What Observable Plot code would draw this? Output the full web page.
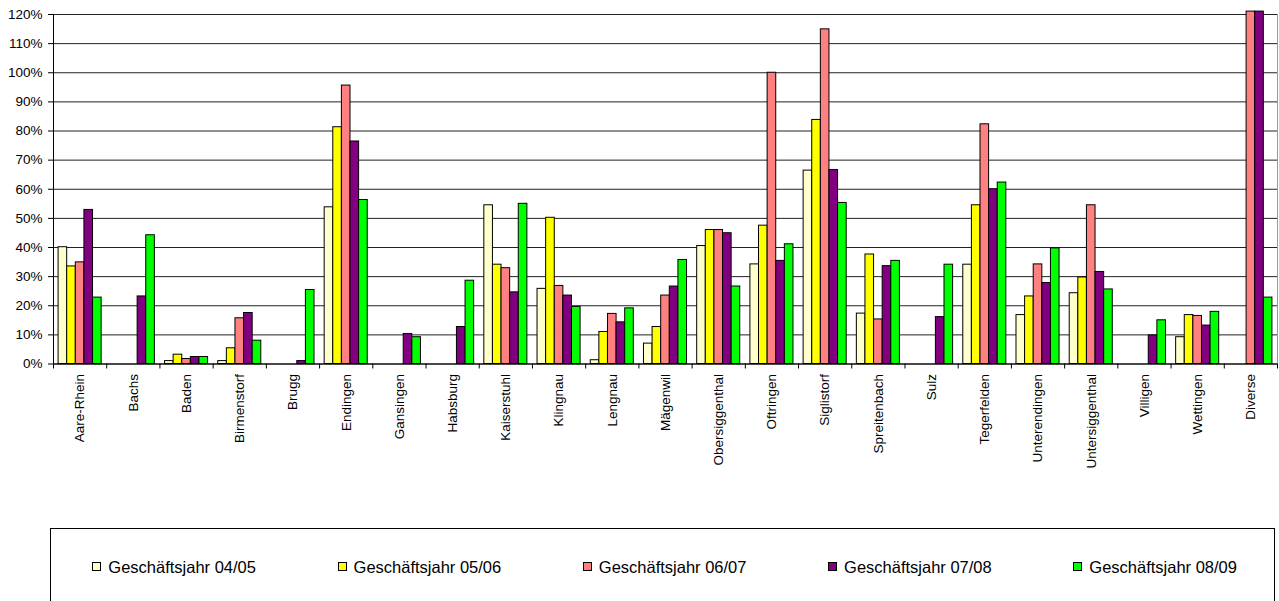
<!DOCTYPE html>
<html>
<head>
<meta charset="utf-8">
<script src="https://cdn.jsdelivr.net/npm/d3@7"></script>
<script src="https://cdn.jsdelivr.net/npm/@observablehq/plot@0.6"></script>
<style>
  html, body { margin: 0; padding: 0; background: #fff; }
  body { width: 1279px; height: 601px; position: relative; overflow: hidden; font-family: "Liberation Sans", Arial, sans-serif; }
  #chart svg { display: block; }
  #legend { position: absolute; left: 50px; top: 528px; width: 1225px; height: 120px; border: 1px solid #000; box-sizing: border-box; }
  .item { position: absolute; top: 27.5px; display: flex; align-items: center; gap: 7px; font-size: 16.5px; line-height: 20px; color: #000; white-space: nowrap; }
  .sw { width: 9px; height: 9px; border: 1px solid #000; box-sizing: border-box; }
</style>
</head>
<body>
<div id="chart"></div>
<div id="legend"></div>
<script>
const categories = ["Aare-Rhein","Bachs","Baden","Birmenstorf","Brugg","Endingen","Gansingen","Habsburg","Kaiserstuhl","Klingnau","Lengnau","Mägenwil","Obersiggenthal","Oftringen","Siglistorf","Spreitenbach","Sulz","Tegerfelden","Unterendingen","Untersiggenthal","Villigen","Wettingen","Diverse"];

const seriesNames = ["Geschäftsjahr 04/05","Geschäftsjahr 05/06","Geschäftsjahr 06/07","Geschäftsjahr 07/08","Geschäftsjahr 08/09"];
const seriesColors = ["#FFFFCC","#FFFF00","#FF8080","#800080","#00FF00"];

const gj0405 = [40.1, null, 1.0, 1.0, null, 53.8, null, null, 54.5, 25.8, 1.3, 7.0, 40.5, 34.2, 66.4, 17.3, null, 34.1, 16.8, 24.3, null, 9.2, null];
const gj0506 = [33.5, null, 3.2, 5.4, null, 81.3, null, null, 34.1, 50.2, 11.0, 12.7, 46.0, 47.5, 83.8, 37.6, null, 54.5, 23.2, 29.7, null, 16.8, null];
const gj0607 = [34.9, null, 1.7, 15.7, null, 95.6, null, null, 32.9, 26.8, 17.2, 23.5, 46.0, 100.0, 114.9, 15.3, null, 82.3, 34.2, 54.5, null, 16.5, 121];
const gj0708 = [52.9, 23.2, 2.4, 17.5, 1.0, 76.4, 10.3, 12.7, 24.6, 23.5, 14.3, 26.6, 44.9, 35.4, 66.6, 33.6, 16.1, 60.0, 27.8, 31.6, 9.8, 13.2, 121];
const gj0809 = [22.8, 44.2, 2.4, 8.0, 25.4, 56.3, 9.2, 28.6, 55.0, 19.6, 19.1, 35.7, 26.6, 41.1, 55.3, 35.4, 34.1, 62.3, 39.7, 25.6, 15.0, 17.9, 22.8];

const yTicks = [0,10,20,30,40,50,60,70,80,90,100,110,120];

const seriesValues = [gj0405, gj0506, gj0607, gj0708, gj0809];

// cluster layout within each category slot (gap on each side in bar widths)
const gap = 0.59;
const slot = 1 / (seriesNames.length + 2 * gap);

const rows = categories.flatMap((c, i) =>
  seriesValues.map((vals, j) => ({
    cat: c,
    series: seriesNames[j],
    value: vals[i],
    x1: i + (gap + j) * slot,
    x2: i + (gap + j + 1) * slot
  }))
).filter(d => d.value != null);

const boundaries = d3.range(categories.length + 1);
const centers = categories.map((c, i) => i + 0.5);

const H = 520;
const chart = Plot.plot({
  width: 1279,
  height: H,
  marginLeft: 53,
  marginRight: 2,
  marginTop: 14,
  marginBottom: H - 363.5,
  x: {domain: [0, categories.length], axis: null, label: null},
  y: {domain: [0, 120], axis: null, label: null},
  color: {domain: seriesNames, range: seriesColors},
  style: {fontFamily: "'Liberation Sans', Arial, sans-serif", fontSize: "13.5px", background: "white", color: "#000"},
  marks: [
    Plot.gridY(yTicks, {stroke: "#222", strokeOpacity: 1, strokeWidth: 1}),
    Plot.frame({anchor: "right", stroke: "#999"}),
    Plot.rect(rows, {x1: "x1", x2: "x2", y1: () => 0, y2: "value", fill: "series", stroke: "#000", strokeWidth: 1}),
    Plot.ruleY([0], {stroke: "#000"}),
    Plot.ruleX([0], {stroke: "#000"}),
    Plot.axisY({ticks: yTicks, tickFormat: d => d + "%", tickSize: 5, tickPadding: 6, fontSize: 13.5, label: null}),
    Plot.axisX({ticks: boundaries, tickFormat: () => "", tickSize: 5, label: null}),
    Plot.axisX({ticks: centers, tickFormat: d => categories[Math.floor(d)], tickSize: 0, tickRotate: -90, tickPadding: 10, fontSize: 13.5, label: null})
  ]
});
document.getElementById("chart").appendChild(chart);

const legend = document.getElementById("legend");
const legendStart = 41.3, legendStep = 245.25;
seriesNames.forEach((name, i) => {
  const item = document.createElement("div");
  item.className = "item";
  item.style.left = (legendStart + i * legendStep) + "px";
  const sw = document.createElement("div");
  sw.className = "sw";
  sw.style.background = seriesColors[i];
  const t = document.createElement("span");
  t.textContent = name;
  item.appendChild(sw);
  item.appendChild(t);
  legend.appendChild(item);
});
</script>
</body>
</html>
